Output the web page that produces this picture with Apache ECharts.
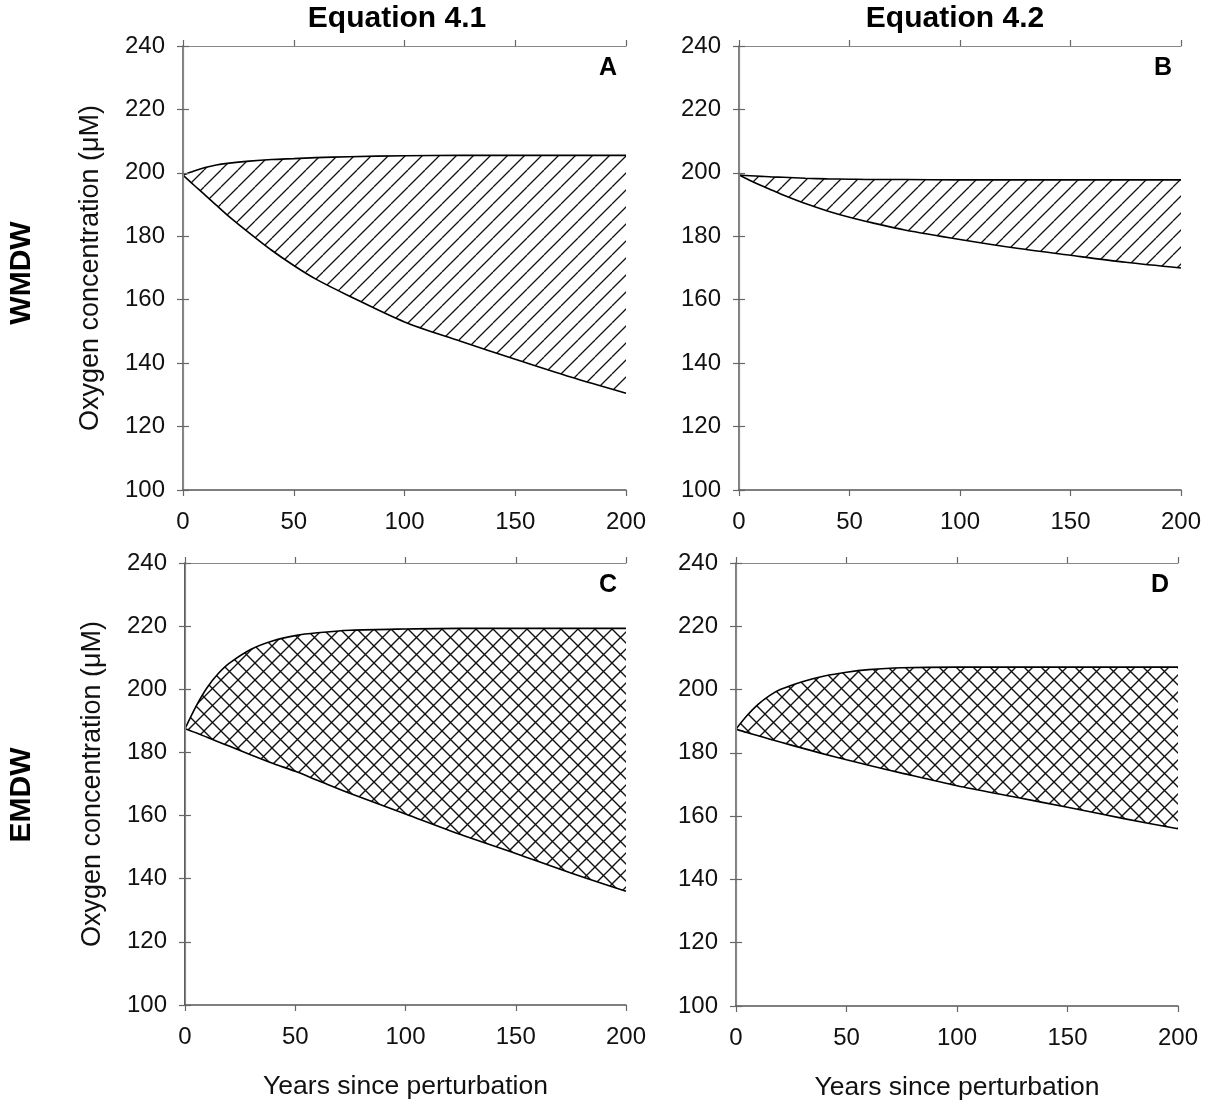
<!DOCTYPE html>
<html>
<head>
<meta charset="utf-8" />
<title>Oxygen concentration</title>
<script src="https://cdn.jsdelivr.net/npm/echarts@6/dist/echarts.min.js"></script>
<style>
  html, body { margin: 0; padding: 0; background: #fff; }
  #chart { width: 1209px; height: 1103px; }
</style>
</head>
<body>
<div id="chart"></div>
<script>
// values (years since perturbation, oxygen in uM)
var years  = [0, 5, 10, 15, 20, 30, 40, 50, 60, 75, 100, 125, 150, 175, 200];
var upperA = [199.3, 200.6, 201.7, 202.5, 203.0, 203.7, 204.2, 204.5, 204.8, 205.1, 205.4, 205.5, 205.5, 205.5, 205.5];
var lowerA = [199.3, 196.1, 193.0, 189.8, 186.7, 181.0, 175.6, 170.8, 166.5, 161.2, 153.0, 147.0, 141.2, 135.6, 130.5];
var upperB = [199.3, 199.1, 198.9, 198.7, 198.6, 198.3, 198.1, 198.0, 197.9, 197.9, 197.8, 197.8, 197.8, 197.8, 197.8];
var lowerB = [199.3, 197.6, 196.0, 194.5, 193.0, 190.3, 188.0, 186.0, 184.3, 182.0, 179.0, 176.3, 174.0, 171.8, 170.0];
var upperC = [187.5, 194.6, 200.5, 204.9, 208.2, 212.7, 215.4, 217.0, 217.9, 218.7, 219.1, 219.3, 219.3, 219.3, 219.3];
var lowerC = [187.5, 186.2, 184.8, 183.4, 182.0, 179.2, 176.5, 174.0, 171.2, 167.0, 160.5, 154.0, 148.0, 141.8, 136.0];
var upperD = [187.5, 191.8, 195.3, 198.0, 200.0, 202.5, 204.3, 205.5, 206.3, 206.9, 207.1, 207.1, 207.1, 207.1, 207.1];
var lowerD = [187.5, 186.4, 185.4, 184.4, 183.4, 181.5, 179.6, 177.8, 176.1, 173.6, 169.6, 166.2, 162.8, 159.3, 156.0];

var panelLetters = ['A', 'B', 'C', 'D'];
var columnTitles = ['Equation 4.1', 'Equation 4.2'];
var rowLabels = ['WMDW', 'EMDW'];
var yTitle = 'Oxygen concentration (\u03bcM)';
var xTitle = 'Years since perturbation';

var FONT = 'Arial, "Liberation Sans", sans-serif';

// hatch tiles drawn on a small canvas
function hatch(cross) {
  var s = 17;
  var c = document.createElement('canvas');
  c.width = s; c.height = s;
  var g = c.getContext('2d');
  g.strokeStyle = '#111';
  g.lineWidth = cross ? 1.4 : 1.3;
  g.beginPath();
  for (var k = -1; k <= 1; k++) {
    g.moveTo(k * s, s); g.lineTo(k * s + s, 0);
    if (cross) { g.moveTo(k * s, 0); g.lineTo(k * s + s, s); }
  }
  g.stroke();
  return c;
}
var diag = hatch(false);
var crossed = hatch(true);

var panels = [
  { grid: { left: 183, top: 46, width: 443, height: 444 }, up: upperA, lo: lowerA, pat: diag, xName: '' },
  { grid: { left: 739, top: 46, width: 442, height: 444 }, up: upperB, lo: lowerB, pat: diag, xName: '' },
  { grid: { left: 185, top: 563, width: 441, height: 442 }, up: upperC, lo: lowerC, pat: crossed, xName: xTitle },
  { grid: { left: 736, top: 563, width: 442, height: 443 }, up: upperD, lo: lowerD, pat: crossed, xName: xTitle }
];

var grids = [], xAxes = [], yAxes = [], series = [], graphics = [];

panels.forEach(function (p, i) {
  grids.push(p.grid);
  var mainLine = { show: true, lineStyle: { color: '#555', width: 1.5 } };
  var sideLine = { show: true, lineStyle: { color: '#888', width: 1.2 } };
  var tick = { show: true, length: 6, lineStyle: { color: '#666', width: 1.2 } };
  var lbl = { color: '#111', fontSize: 24, fontFamily: FONT };

  xAxes.push({
    type: 'value', gridIndex: i, position: 'bottom', min: 0, max: 200, interval: 50, z: 5,
    axisLine: mainLine, axisTick: tick, splitLine: { show: false },
    axisLabel: Object.assign({ margin: 20 }, lbl),
    name: p.xName, nameLocation: 'middle', nameGap: 68,
    nameTextStyle: { color: '#111', fontSize: 26.5, fontFamily: FONT }
  });
  xAxes.push({
    type: 'value', gridIndex: i, position: 'top', min: 0, max: 200, interval: 50, z: 5,
    axisLine: sideLine, axisTick: tick, axisLabel: { show: false }, splitLine: { show: false }
  });
  yAxes.push({
    type: 'value', gridIndex: i, position: 'left', min: 100, max: 240, interval: 20, z: 5,
    axisLine: i === 2 ? { show: true, lineStyle: { color: '#222', width: 1.5 } } : mainLine,
    axisTick: tick, splitLine: { show: false },
    axisLabel: Object.assign({ margin: 18 }, lbl),
    name: (i % 2 === 0) ? yTitle : '', nameLocation: 'middle', nameGap: 79,
    nameTextStyle: { color: '#111', fontSize: 27, fontFamily: FONT }
  });
  yAxes.push({
    type: 'value', gridIndex: i, position: 'right', min: 100, max: 240, interval: 20, z: 5,
    axisLine: sideLine, axisTick: tick, axisLabel: { show: false }, splitLine: { show: false }
  });

  var upPts = years.map(function (y, k) { return [y, p.up[k]]; });
  var loPts = years.map(function (y, k) { return [y, p.lo[k]]; });
  // upper curve: hatch down to the axis floor
  series.push({
    type: 'line', xAxisIndex: i * 2, yAxisIndex: i * 2, z: 2,
    data: upPts, smooth: 0.3, symbol: 'none', silent: true,
    lineStyle: { color: '#000', width: 1.6 },
    areaStyle: { origin: 'start', color: { image: p.pat, repeat: 'repeat' }, opacity: 1 }
  });
  // lower curve: white fill clears the hatch beneath it
  series.push({
    type: 'line', xAxisIndex: i * 2, yAxisIndex: i * 2, z: 3,
    data: loPts, smooth: 0.3, symbol: 'none', silent: true,
    lineStyle: { color: '#000', width: 1.6 },
    areaStyle: { origin: 'start', color: '#fff', opacity: 1 }
  });

  graphics.push({
    type: 'text', x: p.grid.left + p.grid.width - 9, y: p.grid.top + 22, z: 10,
    style: { text: panelLetters[i], font: 'bold 25px ' + FONT, fill: '#000', textAlign: 'right', textVerticalAlign: 'middle' }
  });
});

graphics.push({ type: 'text', x: 397, y: 19, style: { text: columnTitles[0], font: 'bold 30px ' + FONT, fill: '#000', textAlign: 'center', textVerticalAlign: 'middle' } });
graphics.push({ type: 'text', x: 955, y: 19, style: { text: columnTitles[1], font: 'bold 30px ' + FONT, fill: '#000', textAlign: 'center', textVerticalAlign: 'middle' } });
graphics.push({ type: 'text', x: 22, y: 273, rotation: Math.PI / 2, style: { text: rowLabels[0], font: 'bold 30px ' + FONT, fill: '#000', textAlign: 'center', textVerticalAlign: 'middle' } });
graphics.push({ type: 'text', x: 22, y: 795, rotation: Math.PI / 2, style: { text: rowLabels[1], font: 'bold 30px ' + FONT, fill: '#000', textAlign: 'center', textVerticalAlign: 'middle' } });

var chart = echarts.init(document.getElementById('chart'), null, { renderer: 'canvas' });
chart.setOption({
  backgroundColor: '#fff',
  animation: false,
  grid: grids,
  xAxis: xAxes,
  yAxis: yAxes,
  series: series,
  graphic: graphics
});
</script>
</body>
</html>
